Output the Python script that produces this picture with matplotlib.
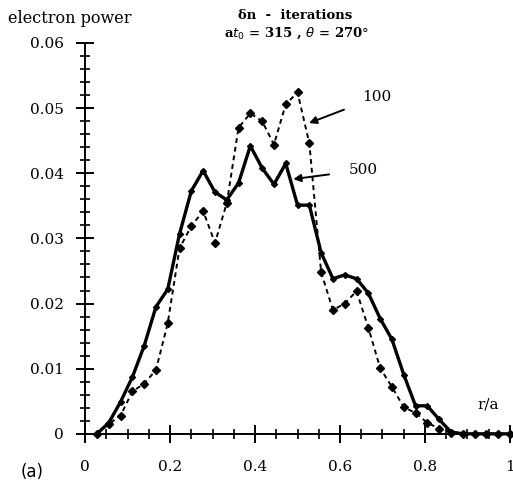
import matplotlib.pyplot as plt
from matplotlib.ticker import MultipleLocator, FuncFormatter
import numpy as np

# radial grid r/a (36 points)
r = np.arange(1, 37) / 36.0

# electron power after 500 iterations (solid)
p500 = [0.0, 0.0017, 0.0049, 0.0087, 0.0135, 0.0195, 0.0222, 0.0307, 0.0373,
        0.0404, 0.0371, 0.0359, 0.0385, 0.0442, 0.0408, 0.0383, 0.0415, 0.0351,
        0.0351, 0.0278, 0.0238, 0.0244, 0.0238, 0.0216, 0.0177, 0.0145, 0.0091,
        0.0043, 0.0043, 0.0022, 0.0003, 0.0, 0.0, 0.0, 0.0, 0.0]

# electron power after 100 iterations (dashed)
p100 = [0.0, 0.0015, 0.0028, 0.0065, 0.0077, 0.0098, 0.0170, 0.0285, 0.0319,
        0.0342, 0.0293, 0.0354, 0.0470, 0.0492, 0.0480, 0.0444, 0.0506, 0.0524,
        0.0446, 0.0248, 0.0190, 0.0200, 0.0219, 0.0163, 0.0101, 0.0072, 0.0041,
        0.0032, 0.0017, 0.0008, 0.0002, 0.0, 0.0, 0.0, 0.0, 0.0]

xticks = [0, 0.2, 0.4, 0.6, 0.8, 1]
yticks = [0, 0.01, 0.02, 0.03, 0.04, 0.05, 0.06]

plt.rcParams['font.family'] = 'DejaVu Serif'

fig = plt.figure(figsize=(5.13, 4.88), dpi=100)
ax = fig.add_axes([0.166, 0.111, 0.828, 0.801])

ax.plot(r, p100, color='black', linestyle=(0, (2.5, 2)), linewidth=1.4,
        marker='D', markersize=4, clip_on=False)
ax.plot(r, p500, color='black', linestyle='-', linewidth=2.4,
        marker='D', markersize=3, clip_on=False)

ax.set_xlim(0, 1)
ax.set_ylim(0, 0.06)
ax.spines['top'].set_visible(False)
ax.spines['right'].set_visible(False)
ax.spines['left'].set_linewidth(1.4)
ax.spines['bottom'].set_linewidth(1.4)

ax.set_xticks(xticks)
ax.set_yticks(yticks)
ax.xaxis.set_minor_locator(MultipleLocator(0.05))
ax.yaxis.set_minor_locator(MultipleLocator(0.002))
ax.xaxis.set_major_formatter(FuncFormatter(lambda v, p: '0' if v == 0 else ('1' if v == 1 else '%g' % v)))
ax.yaxis.set_major_formatter(FuncFormatter(lambda v, p: '0' if v == 0 else '%.2f' % v))
ax.tick_params(which='major', direction='inout', length=13, width=1.4, labelsize=11)
ax.tick_params(which='minor', direction='inout', length=7, width=1.2)
ax.tick_params(axis='x', which='major', pad=12)
ax.tick_params(axis='y', which='major', pad=9)

ax.text(0.95, 0.0045, 'r/a', fontsize=11, ha='center', va='center')
ax.annotate('100', xy=(0.527, 0.0477), xytext=(0.687, 0.0517), fontsize=11,
            ha='center', va='center',
            arrowprops=dict(arrowstyle='-|>', color='black', lw=1.4, shrinkA=12, shrinkB=0))
ax.annotate('500', xy=(0.49, 0.0391), xytext=(0.654, 0.0405), fontsize=11,
            ha='center', va='center',
            arrowprops=dict(arrowstyle='-|>', color='black', lw=1.4, shrinkA=12, shrinkB=0))

fig.text(0.016, 0.963, 'electron power', fontsize=11.5, ha='left', va='center')
fig.text(0.575, 0.969, '\u03b4n  -  iterations', fontsize=9.5, ha='center', va='center',
         fontweight='bold')
fig.text(0.578, 0.932, r'a$t_0$ = 315 , $\theta$ = 270$\degree$', fontsize=9.5,
         ha='center', va='center', fontweight='bold')
fig.text(0.04, 0.033, '(a)', fontsize=12, ha='left', va='center', family='DejaVu Sans')

fig.savefig('out.png', dpi=100)
